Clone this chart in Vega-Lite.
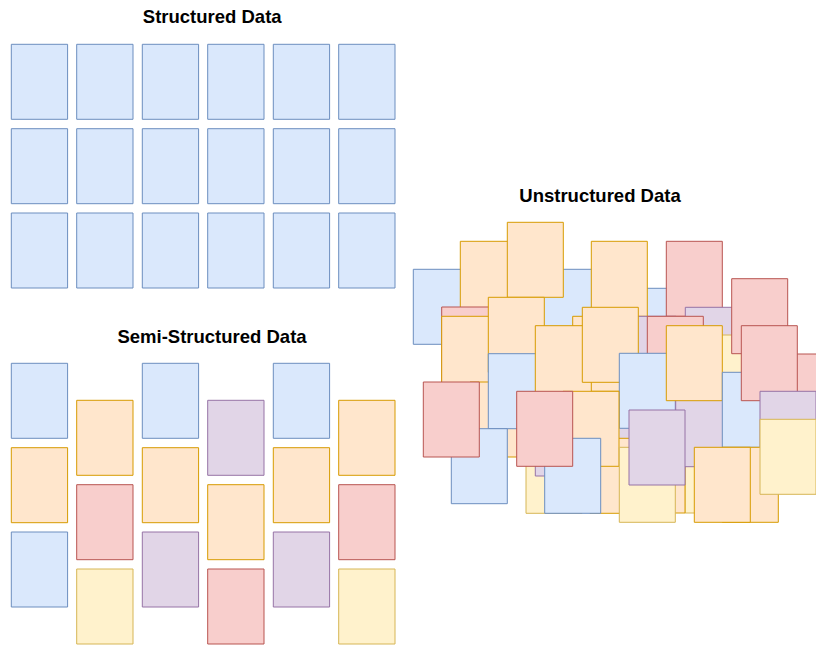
{
  "$schema": "https://vega.github.io/schema/vega-lite/v6.json",
  "width": 816,
  "height": 645,
  "padding": 0,
  "autosize": {"type": "fit", "contains": "padding"},
  "background": "white",
  "config": {"view": {"stroke": null}},
  "layer": [
    {
      "data": {"values": [
        {"i": 1, "c": "blue", "x": 11.3, "x2": 67.6, "y": 44.3, "y2": 119.3},
        {"i": 2, "c": "blue", "x": 76.7, "x2": 133.0, "y": 44.3, "y2": 119.3},
        {"i": 3, "c": "blue", "x": 142.3, "x2": 198.6, "y": 44.3, "y2": 119.3},
        {"i": 4, "c": "blue", "x": 207.7, "x2": 264.0, "y": 44.3, "y2": 119.3},
        {"i": 5, "c": "blue", "x": 273.3, "x2": 329.6, "y": 44.3, "y2": 119.3},
        {"i": 6, "c": "blue", "x": 338.7, "x2": 395.0, "y": 44.3, "y2": 119.3},
        {"i": 7, "c": "blue", "x": 11.3, "x2": 67.6, "y": 128.7, "y2": 203.7},
        {"i": 8, "c": "blue", "x": 76.7, "x2": 133.0, "y": 128.7, "y2": 203.7},
        {"i": 9, "c": "blue", "x": 142.3, "x2": 198.6, "y": 128.7, "y2": 203.7},
        {"i": 10, "c": "blue", "x": 207.7, "x2": 264.0, "y": 128.7, "y2": 203.7},
        {"i": 11, "c": "blue", "x": 273.3, "x2": 329.6, "y": 128.7, "y2": 203.7},
        {"i": 12, "c": "blue", "x": 338.7, "x2": 395.0, "y": 128.7, "y2": 203.7},
        {"i": 13, "c": "blue", "x": 11.3, "x2": 67.6, "y": 213.0, "y2": 288.0},
        {"i": 14, "c": "blue", "x": 76.7, "x2": 133.0, "y": 213.0, "y2": 288.0},
        {"i": 15, "c": "blue", "x": 142.3, "x2": 198.6, "y": 213.0, "y2": 288.0},
        {"i": 16, "c": "blue", "x": 207.7, "x2": 264.0, "y": 213.0, "y2": 288.0},
        {"i": 17, "c": "blue", "x": 273.3, "x2": 329.6, "y": 213.0, "y2": 288.0},
        {"i": 18, "c": "blue", "x": 338.7, "x2": 395.0, "y": 213.0, "y2": 288.0},

        {"i": 21, "c": "blue", "x": 11.3, "x2": 67.6, "y": 363.3, "y2": 438.3},
        {"i": 22, "c": "orange", "x": 11.3, "x2": 67.6, "y": 447.7, "y2": 522.7},
        {"i": 23, "c": "blue", "x": 11.3, "x2": 67.6, "y": 532.0, "y2": 607.0},
        {"i": 24, "c": "orange", "x": 76.7, "x2": 133.0, "y": 400.3, "y2": 475.3},
        {"i": 25, "c": "red", "x": 76.7, "x2": 133.0, "y": 484.7, "y2": 559.7},
        {"i": 26, "c": "yellow", "x": 76.7, "x2": 133.0, "y": 569.0, "y2": 644.0},
        {"i": 27, "c": "blue", "x": 142.3, "x2": 198.6, "y": 363.3, "y2": 438.3},
        {"i": 28, "c": "orange", "x": 142.3, "x2": 198.6, "y": 447.7, "y2": 522.7},
        {"i": 29, "c": "purple", "x": 142.3, "x2": 198.6, "y": 532.0, "y2": 607.0},
        {"i": 30, "c": "purple", "x": 207.7, "x2": 264.0, "y": 400.3, "y2": 475.3},
        {"i": 31, "c": "orange", "x": 207.7, "x2": 264.0, "y": 484.7, "y2": 559.7},
        {"i": 32, "c": "red", "x": 207.7, "x2": 264.0, "y": 569.0, "y2": 644.0},
        {"i": 33, "c": "blue", "x": 273.3, "x2": 329.6, "y": 363.3, "y2": 438.3},
        {"i": 34, "c": "orange", "x": 273.3, "x2": 329.6, "y": 447.7, "y2": 522.7},
        {"i": 35, "c": "purple", "x": 273.3, "x2": 329.6, "y": 532.0, "y2": 607.0},
        {"i": 36, "c": "orange", "x": 338.7, "x2": 395.0, "y": 400.3, "y2": 475.3},
        {"i": 37, "c": "red", "x": 338.7, "x2": 395.0, "y": 484.7, "y2": 559.7},
        {"i": 38, "c": "yellow", "x": 338.7, "x2": 395.0, "y": 569.0, "y2": 644.0},

        {"i": 41, "c": "blue", "x": 413.3, "x2": 469.3, "y": 269.3, "y2": 344.3},
        {"i": 42, "c": "blue", "x": 540.0, "x2": 596.0, "y": 269.3, "y2": 344.3},
        {"i": 43, "c": "orange", "x": 460.3, "x2": 516.3, "y": 241.3, "y2": 316.3},
        {"i": 44, "c": "orange", "x": 507.3, "x2": 563.3, "y": 222.3, "y2": 297.3},
        {"i": 45, "c": "blue", "x": 615.0, "x2": 671.0, "y": 288.3, "y2": 363.3},
        {"i": 46, "c": "orange", "x": 591.3, "x2": 647.3, "y": 241.3, "y2": 316.3},
        {"i": 47, "c": "red", "x": 666.3, "x2": 722.3, "y": 241.3, "y2": 316.3},
        {"i": 48, "c": "purple", "x": 620.0, "x2": 676.0, "y": 316.3, "y2": 391.3},
        {"i": 49, "c": "purple", "x": 685.3, "x2": 741.3, "y": 307.3, "y2": 382.3},
        {"i": 50, "c": "yellow", "x": 700.0, "x2": 756.0, "y": 335.0, "y2": 410.0},
        {"i": 51, "c": "red", "x": 731.7, "x2": 787.7, "y": 278.7, "y2": 353.7},
        {"i": 52, "c": "red", "x": 441.7, "x2": 497.7, "y": 307.0, "y2": 382.0},
        {"i": 53, "c": "orange", "x": 441.7, "x2": 497.7, "y": 316.3, "y2": 391.3},
        {"i": 54, "c": "orange", "x": 470.0, "x2": 526.0, "y": 382.0, "y2": 457.0},
        {"i": 55, "c": "orange", "x": 488.3, "x2": 544.3, "y": 297.3, "y2": 372.3},
        {"i": 56, "c": "blue", "x": 488.3, "x2": 544.3, "y": 353.7, "y2": 428.7},
        {"i": 57, "c": "orange", "x": 572.7, "x2": 628.7, "y": 316.3, "y2": 391.3},
        {"i": 58, "c": "orange", "x": 535.3, "x2": 591.3, "y": 325.7, "y2": 400.7},
        {"i": 59, "c": "orange", "x": 582.3, "x2": 638.3, "y": 307.3, "y2": 382.3},
        {"i": 60, "c": "red", "x": 647.3, "x2": 703.3, "y": 316.3, "y2": 391.3},
        {"i": 61, "c": "purple", "x": 600.0, "x2": 656.0, "y": 400.0, "y2": 475.0},
        {"i": 62, "c": "blue", "x": 619.3, "x2": 675.3, "y": 353.3, "y2": 428.3},
        {"i": 63, "c": "yellow", "x": 685.0, "x2": 741.0, "y": 438.0, "y2": 513.0},
        {"i": 64, "c": "orange", "x": 629.0, "x2": 685.0, "y": 438.0, "y2": 513.0},
        {"i": 65, "c": "purple", "x": 675.7, "x2": 731.7, "y": 391.7, "y2": 466.7},
        {"i": 66, "c": "orange", "x": 666.3, "x2": 722.3, "y": 325.7, "y2": 400.7},
        {"i": 67, "c": "red", "x": 790.0, "x2": 846.0, "y": 354.0, "y2": 429.0},
        {"i": 68, "c": "blue", "x": 722.3, "x2": 778.3, "y": 372.3, "y2": 447.3},
        {"i": 69, "c": "red", "x": 741.3, "x2": 797.3, "y": 325.7, "y2": 400.7},
        {"i": 70, "c": "purple", "x": 760.0, "x2": 816.0, "y": 391.3, "y2": 466.3},
        {"i": 71, "c": "blue", "x": 451.3, "x2": 507.3, "y": 428.7, "y2": 503.7},
        {"i": 72, "c": "red", "x": 423.3, "x2": 479.3, "y": 382.0, "y2": 457.0},
        {"i": 73, "c": "yellow", "x": 526.0, "x2": 582.0, "y": 438.3, "y2": 513.3},
        {"i": 74, "c": "purple", "x": 535.3, "x2": 591.3, "y": 401.0, "y2": 476.0},
        {"i": 75, "c": "orange", "x": 590.0, "x2": 646.0, "y": 438.3, "y2": 513.3},
        {"i": 76, "c": "orange", "x": 563.0, "x2": 619.0, "y": 391.3, "y2": 466.3},
        {"i": 77, "c": "blue", "x": 544.7, "x2": 600.7, "y": 438.3, "y2": 513.3},
        {"i": 78, "c": "red", "x": 516.7, "x2": 572.7, "y": 391.3, "y2": 466.3},
        {"i": 79, "c": "yellow", "x": 619.3, "x2": 675.3, "y": 447.3, "y2": 522.3},
        {"i": 80, "c": "purple", "x": 629.0, "x2": 685.0, "y": 410.0, "y2": 485.0},
        {"i": 81, "c": "orange", "x": 722.3, "x2": 778.3, "y": 447.3, "y2": 522.3},
        {"i": 82, "c": "yellow", "x": 760.0, "x2": 816.0, "y": 419.3, "y2": 494.3},
        {"i": 83, "c": "orange", "x": 694.3, "x2": 750.3, "y": 447.3, "y2": 522.3}
      ]},
      "mark": {"type": "rect", "strokeWidth": 1, "clip": true},
      "encoding": {
        "x": {"field": "x", "type": "quantitative", "scale": {"domain": [0, 816], "nice": false, "zero": false}, "axis": null},
        "x2": {"field": "x2"},
        "y": {"field": "y", "type": "quantitative", "scale": {"domain": [0, 645], "nice": false, "zero": false, "reverse": true}, "axis": null},
        "y2": {"field": "y2"},
        "fill": {"field": "c", "type": "nominal", "legend": null,
          "scale": {"domain": ["blue", "orange", "red", "purple", "yellow"], "range": ["#dae8fc", "#ffe6cc", "#f8cecc", "#e1d5e7", "#fff2cc"]}},
        "stroke": {"field": "c", "type": "nominal", "legend": null,
          "scale": {"domain": ["blue", "orange", "red", "purple", "yellow"], "range": ["#6c8ebf", "#d79b00", "#b85450", "#9673a6", "#d6b656"]}},
        "order": {"field": "i", "type": "quantitative"}
      }
    },
    {
      "data": {"values": [
        {"label": "Structured Data", "x": 212.2, "y": 23.4},
        {"label": "Semi-Structured Data", "x": 212.0, "y": 342.7},
        {"label": "Unstructured Data", "x": 600.0, "y": 201.5}
      ]},
      "mark": {"type": "text", "font": "Liberation Sans", "fontWeight": "bold", "fontSize": 18.5, "align": "center", "baseline": "alphabetic", "color": "#000000"},
      "encoding": {
        "x": {"field": "x", "type": "quantitative"},
        "y": {"field": "y", "type": "quantitative"},
        "text": {"field": "label", "type": "nominal"}
      }
    }
  ]
}
